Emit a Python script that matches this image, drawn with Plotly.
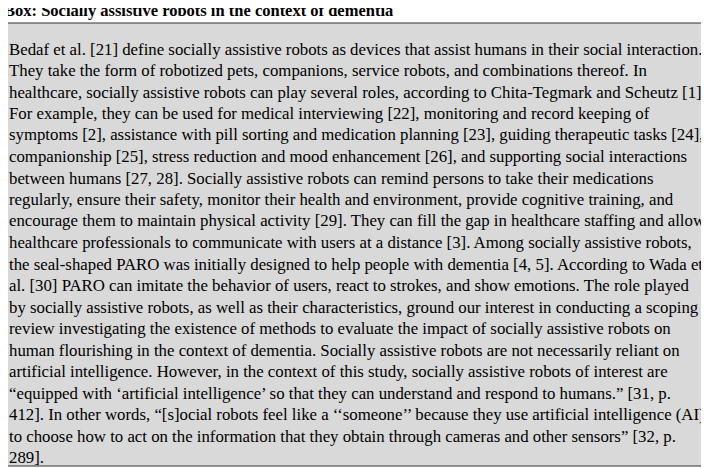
import plotly.graph_objects as go

W, H = 709, 468
OFF = 8  # page margin of the browser

title = "Box: Socially assistive robots in the context of dementia"
lines = [
    "Bedaf et al. [21] define socially assistive robots as devices that assist humans in their social interaction.",
    "They take the form of robotized pets, companions, service robots, and combinations thereof. In",
    "healthcare, socially assistive robots can play several roles, according to Chita-Tegmark and Scheutz [1].",
    "For example, they can be used for medical interviewing [22], monitoring and record keeping of",
    "symptoms [2], assistance with pill sorting and medication planning [23], guiding therapeutic tasks [24],",
    "companionship [25], stress reduction and mood enhancement [26], and supporting social interactions",
    "between humans [27, 28]. Socially assistive robots can remind persons to take their medications",
    "regularly, ensure their safety, monitor their health and environment, provide cognitive training, and",
    "encourage them to maintain physical activity [29]. They can fill the gap in healthcare staffing and allow",
    "healthcare professionals to communicate with users at a distance [3]. Among socially assistive robots,",
    "the seal-shaped PARO was initially designed to help people with dementia [4, 5]. According to Wada et",
    "al. [30] PARO can imitate the behavior of users, react to strokes, and show emotions. The role played",
    "by socially assistive robots, as well as their characteristics, ground our interest in conducting a scoping",
    "review investigating the existence of methods to evaluate the impact of socially assistive robots on",
    "human flourishing in the context of dementia. Socially assistive robots are not necessarily reliant on",
    "artificial intelligence. However, in the context of this study, socially assistive robots of interest are",
    "“equipped with ‘artificial intelligence’ so that they can understand and respond to humans.” [31, p.",
    "412]. In other words, “[s]ocial robots feel like a ‘‘someone’’ because they use artificial intelligence (AI)",
    "to choose how to act on the information that they obtain through cameras and other sensors” [32, p.",
    "289].",
]

fig = go.Figure()


def px_x(px):
    return (px - OFF) / W


def px_y(px):
    return 1 - (px - OFF) / H


fig.add_shape(type="rect", xref="paper", yref="paper",
              x0=px_x(1), x1=px_x(707), y0=px_y(466), y1=px_y(23),
              line=dict(color="#333333", width=1), fillcolor="#d9d9d9", layer="below")

fig.add_annotation(x=px_x(2), y=px_y(11), xref="paper", yref="paper", text="<b>" + title + "</b>",
                   showarrow=False, xanchor="left", yanchor="middle",
                   font=dict(family="Liberation Serif", size=16.5, color="black"))

for i, t in enumerate(lines):
    fig.add_annotation(x=px_x(7), y=px_y(49 + i * 21.5), xref="paper", yref="paper", text=t,
                       showarrow=False, xanchor="left", yanchor="middle",
                       font=dict(family="Liberation Serif", size=16.8, color="black"))

fig.update_layout(width=W, height=H, margin=dict(l=0, r=0, t=0, b=0),
                  paper_bgcolor="white", plot_bgcolor="white",
                  xaxis=dict(visible=False), yaxis=dict(visible=False))

fig.write_html("out.html")
